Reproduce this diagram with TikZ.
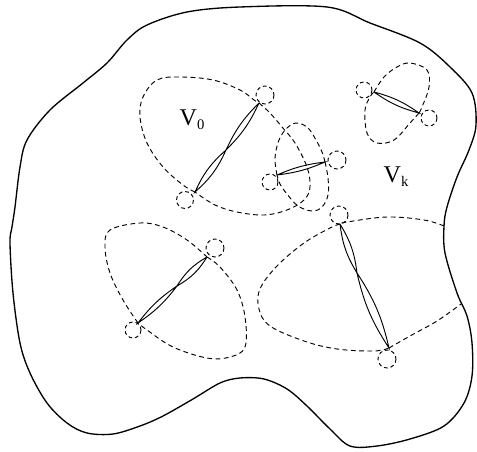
\documentclass[tikz,border=0pt]{standalone}
\usepackage{fontspec}
\setmainfont{Liberation Serif}
\begin{document}
\begin{tikzpicture}[x=0.75pt,y=-0.75pt,
  outline/.style={line width=1pt,line join=round},
  lobe/.style={line width=0.7pt,dash pattern=on 3.6pt off 2.6pt},
  tinyloop/.style={line width=0.7pt,dash pattern=on 2.8pt off 2.2pt},
  lensline/.style={line width=0.7pt},
  lbl/.style={inner sep=0pt,font=\fontsize{18}{20}\selectfont}]
\useasboundingbox (0,0) rectangle (477,452);
% outer region
\draw[outline] plot[smooth cycle,tension=0.55] coordinates {
 (240,7) (327,7) (370,23) (420,43) (450,67) (472,93) (476,125) (469,150)
 (457,177) (447,207) (444,226) (445,253) (457,293) (467,316) (472,343)
 (472,376) (464,403) (444,426) (410,439) (377,446) (350,446) (330,429)
 (307,406) (287,389) (264,379) (240,378) (220,383) (193,399) (163,416)
 (140,426) (113,434) (87,433) (67,423) (47,403) (30,373) (20,343)
 (13,293) (10,243) (12,227) (15,207) (20,167) (27,140) (50,110) (83,83)
 (107,63) (127,40) (147,25) (187,12)};
% endpoints of the lenses
\coordinate (a0) at (259,103); \coordinate (m0) at (226,150); \coordinate (b0) at (195,192);
\coordinate (a1) at (277,175); \coordinate (b1) at (325,162);
\coordinate (a2) at (374,92);  \coordinate (b2) at (419,113);
\coordinate (a3) at (207,257); \coordinate (m3) at (177,286); \coordinate (b3) at (138,323);
\coordinate (a4) at (340,224); \coordinate (m4) at (357,273); \coordinate (b4) at (389,348);
% lenses
\draw[lensline] (a0) to[bend left=10] (m0) to[bend left=10] (a0);
\draw[lensline] (m0) to[bend left=12] (b0) to[bend left=12] (m0);
\draw[lensline] (a1) to[bend left=8] (b1) to[bend left=8] (a1);
\draw[lensline] (a2) to[bend left=10] (b2) to[bend left=10] (a2);
\draw[lensline] (a3) to[bend left=14] (m3) to[bend left=14] (a3);
\draw[lensline] (m3) to[bend left=9] (b3) to[bend left=9] (m3);
\draw[lensline] (a4) to[bend left=12] (m4) to[bend left=12] (a4);
\draw[lensline] (m4) to[bend left=10] (b4) to[bend left=10] (m4);
% V0 lobe
\draw[lobe] plot[smooth,tension=0.6] coordinates {(b0) (183,185) (163,167) (147,143) (140,117) (143,97) (157,80) (180,77) (213,80) (240,90) (254,100) (a0)};
\draw[lobe] plot[smooth,tension=0.6] coordinates {(a0) (270,113) (282,127) (295,143) (307,167) (310,187) (304,200) (287,210) (264,215) (237,212) (215,205) (b0)};
% middle lobe
\draw[lobe] plot[smooth,tension=0.6] coordinates {(a1) (275,158) (279,140) (287,128) (297,123) (308,128) (316,140) (322,152) (b1)};
\draw[lobe] plot[smooth,tension=0.6] coordinates {(b1) (328,178) (328,195) (322,207) (312,211) (298,206) (287,194) (280,184) (a1)};
% upper right lobe
\draw[lobe] plot[smooth,tension=0.6] coordinates {(a2) (384,77) (397,67) (410,63) (427,70) (429,87) (422,107) (b2)};
\draw[lobe] plot[smooth,tension=0.6] coordinates {(b2) (410,123) (394,140) (377,143) (367,133) (365,110) (370,97) (a2)};
% lower left lobe
\draw[lobe] plot[smooth,tension=0.6] coordinates {(b3) (123,300) (110,273) (105,247) (110,230) (140,223) (163,227) (187,240) (a3)};
\draw[lobe] plot[smooth,tension=0.6] coordinates {(a3) (220,267) (237,290) (245,317) (245,347) (230,357) (207,358) (173,347) (147,330) (b3)};
% lower right lobe (open onto the outer boundary)
\coordinate (r1) at (444,226); \coordinate (r2) at (461,304);
\draw[lobe] plot[smooth,tension=0.6] coordinates {(r1) (424,220) (387,217) (347,222) (a4)};
\draw[lobe] plot[smooth,tension=0.6] coordinates {(a4) (330,228) (304,243) (277,266) (260,289) (259,309) (270,326) (304,341) (337,349) (374,351) (b4)};
\draw[lobe] plot[smooth,tension=0.6] coordinates {(b4) (410,336) (437,321) (r2)};
% tiny loops at the lens ends
\draw[tinyloop] (265,95) circle[radius=9];
\draw[tinyloop] (185,200) circle[radius=8.5];
\draw[tinyloop] (270,182) circle[radius=8];
\draw[tinyloop] (337,160) circle[radius=9];
\draw[tinyloop] (364,90) circle[radius=8];
\draw[tinyloop] (429,118) circle[radius=8];
\draw[tinyloop] (215,248) circle[radius=9];
\draw[tinyloop] (133,330) circle[radius=8];
\draw[tinyloop] (339,215) circle[radius=9];
\draw[tinyloop] (387,359) circle[radius=9];
% labels
\node[lbl] (v0) at (192,120) {V\raisebox{-0.35ex}{\fontsize{11}{11}\selectfont 0}};
\node[lbl] (vk) at (396,177) {V\raisebox{-0.35ex}{\fontsize{11}{11}\selectfont k}};
\end{tikzpicture}
\end{document}
